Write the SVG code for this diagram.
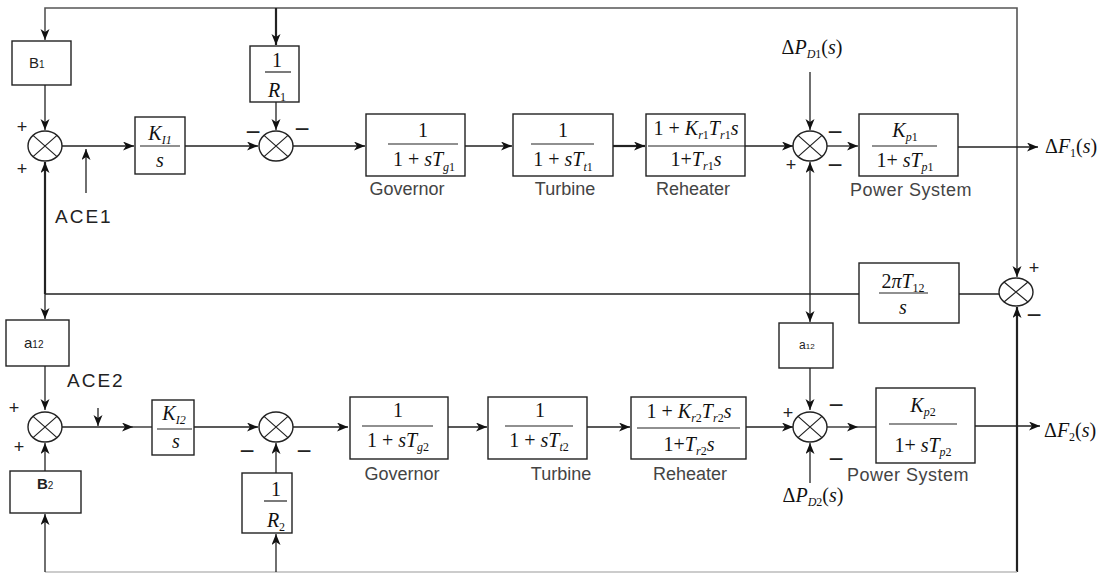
<svg xmlns="http://www.w3.org/2000/svg" width="1110" height="573" viewBox="0 0 1110 573">
<defs>
<marker id="ah" markerUnits="userSpaceOnUse" markerWidth="12" markerHeight="10" refX="11" refY="4.5" orient="auto">
<path d="M0,0 L11,4.5 L0,9 L3,4.5 z" fill="#111"/>
</marker>
<style>
.ln{fill:none;stroke:#222;stroke-width:1.3}
.thk{stroke-width:2.2}
.lt{stroke:#bbb}
.gr{stroke:#555;stroke-width:1.6}
.bx{fill:#fff;stroke:#222;stroke-width:1.4}
.sm{fill:#fff;stroke:#222;stroke-width:1.4}
.fl{stroke:#222;stroke-width:1.2}
.m{font-family:"Liberation Serif",serif;font-size:20px;fill:#111}
.i{font-style:italic}
.sb{font-size:12px}
.lb{font-family:"Liberation Sans",Arial,sans-serif;font-size:18px;fill:#444}
.sg{font-family:"Liberation Sans",Arial,sans-serif;font-size:18px;fill:#222;text-anchor:middle}
.mn{font-family:"Liberation Sans",Arial,sans-serif;font-size:26px;fill:#222;text-anchor:middle}
.tx{font-family:"Liberation Sans",Arial,sans-serif;fill:#222}
.ace{font-family:"Liberation Sans",Arial,sans-serif;font-size:19px;letter-spacing:2px;fill:#222}
</style>
</defs>
<rect width="1110" height="573" fill="#fff"/>

<g id="connectors">
<path class="ln gr" d="M1017,147 V8 H45 V40" marker-end="url(#ah)"/>
<path class="ln" d="M1017,147 V277" marker-end="url(#ah)"/>
<path class="ln thk" d="M276,8 V45" marker-end="url(#ah)"/>
<path class="ln" d="M45,85 V130" marker-end="url(#ah)"/>
<path class="ln" d="M62,146 H134" marker-end="url(#ah)"/>
<path class="ln" d="M86,193 V149" marker-end="url(#ah)"/>
<path class="ln" d="M185,146 H258" marker-end="url(#ah)"/>
<path class="ln" d="M276,102 V130" marker-end="url(#ah)"/>
<path class="ln" d="M293,146 H365" marker-end="url(#ah)"/>
<path class="ln" d="M465,146 H512" marker-end="url(#ah)"/>
<path class="ln thk" d="M613,146 H645" marker-end="url(#ah)"/>
<path class="ln" d="M745,146 H793" marker-end="url(#ah)"/>
<path class="ln" d="M810,72 V130" marker-end="url(#ah)"/>
<path class="ln" d="M827,146 H858" marker-end="url(#ah)"/>
<path class="ln" d="M958,147 H1038" marker-end="url(#ah)"/>
<path class="ln" d="M999,294 H959 M859,294 H45"/>
<path class="ln thk" d="M45,294 V162" marker-end="url(#ah)"/>
<path class="ln" d="M45,294 V319" marker-end="url(#ah)"/>
<path class="ln" d="M810,294 V162" marker-end="url(#ah)"/>
<path class="ln" d="M810,294 V322" marker-end="url(#ah)"/>
<path class="ln thk" d="M1017,572 V307" marker-end="url(#ah)"/>
<path class="ln" d="M975,426 H1040" marker-end="url(#ah)"/>
<path class="ln" d="M45,366 V410" marker-end="url(#ah)"/>
<path class="ln" d="M62,427 H133" marker-end="url(#ah)"/>
<path class="ln" d="M133,427 H152"/>
<path class="ln" d="M98,408 V426" marker-end="url(#ah)"/>
<path class="ln" d="M194,427 H258" marker-end="url(#ah)"/>
<path class="ln" d="M276,473 V443" marker-end="url(#ah)"/>
<path class="ln lt" d="M45,572 H1017"/>
<path class="ln" d="M276,572 V534" marker-end="url(#ah)"/>
<path class="ln" d="M45,572 V514" marker-end="url(#ah)"/>
<path class="ln" d="M45,471 V443" marker-end="url(#ah)"/>
<path class="ln" d="M293,427 H348" marker-end="url(#ah)"/>
<path class="ln" d="M448,427 H487" marker-end="url(#ah)"/>
<path class="ln" d="M587,427 H630" marker-end="url(#ah)"/>
<path class="ln" d="M746,427 H793" marker-end="url(#ah)"/>
<path class="ln" d="M810,368 V410" marker-end="url(#ah)"/>
<path class="ln" d="M810,483 V443" marker-end="url(#ah)"/>
<path class="ln" d="M827,427 H858" marker-end="url(#ah)"/>
<path class="ln" d="M858,427 H876"/>
</g>

<!-- summing junctions -->
<g id="sum1"><ellipse class="sm" cx="45" cy="146" rx="17" ry="15"/><path class="fl" d="M33,135.4 L57,156.6 M57,135.4 L33,156.6"/>
<text class="sg" x="22" y="133">+</text><text class="sg" x="22" y="175">+</text></g>
<g id="sum2"><ellipse class="sm" cx="276" cy="146" rx="17" ry="15"/><path class="fl" d="M264,135.4 L288,156.6 M288,135.4 L264,156.6"/>
<text class="mn" x="253" y="140.5">−</text><text class="mn" x="302" y="137.5">−</text></g>
<g id="sum3"><ellipse class="sm" cx="810" cy="146" rx="17" ry="15"/><path class="fl" d="M798,135.4 L822,156.6 M822,135.4 L798,156.6"/>
<text class="mn" x="835" y="140.5">−</text><text class="sg" x="791" y="171">+</text><text class="mn" x="835" y="173.5">−</text></g>
<g id="sum4"><ellipse class="sm" cx="1016" cy="292" rx="17" ry="14"/><path class="fl" d="M1004,282 L1028,302 M1028,282 L1004,302"/>
<text class="sg" x="1034" y="274">+</text><text class="mn" x="1034" y="323.5">−</text></g>
<g id="sum5"><ellipse class="sm" cx="45" cy="427" rx="17" ry="15"/><path class="fl" d="M33,416.4 L57,437.6 M57,416.4 L33,437.6"/>
<text class="sg" x="14" y="414">+</text><text class="sg" x="19" y="453">+</text></g>
<g id="sum6"><ellipse class="sm" cx="276" cy="427" rx="17" ry="15"/><path class="fl" d="M264,416.4 L288,437.6 M288,416.4 L264,437.6"/>
<text class="mn" x="247" y="459.5">−</text><text class="mn" x="304" y="459.5">−</text></g>
<g id="sum7"><ellipse class="sm" cx="810" cy="427" rx="17" ry="15"/><path class="fl" d="M798,416.4 L822,437.6 M822,416.4 L798,437.6"/>
<text class="sg" x="788" y="419">+</text><text class="mn" x="836" y="413.5">−</text><text class="mn" x="836" y="467.5">−</text></g>

<!-- area 1 blocks -->
<g id="B1"><rect class="bx" x="12" y="41" width="59" height="44"/>
<text class="tx" x="29" y="68" font-size="15">B<tspan font-size="10">1</tspan></text></g>

<g id="R1"><rect class="bx" x="250" y="46" width="49" height="56"/>
<text class="m" x="277" y="67" text-anchor="middle">1</text>
<line class="fl" x1="265" y1="72" x2="291" y2="72"/>
<text class="m" x="277" y="97" text-anchor="middle"><tspan class="i">R</tspan><tspan class="sb" dy="4">1</tspan></text></g>

<g id="KI1"><rect class="bx" x="135" y="117" width="50" height="57"/>
<text class="m" x="160" y="140" text-anchor="middle"><tspan class="i">K</tspan><tspan class="sb i" dy="4">I1</tspan></text>
<line class="fl" x1="140" y1="146" x2="180" y2="146"/>
<text class="m i" x="160" y="167" text-anchor="middle">s</text></g>

<g id="gov1"><rect class="bx" x="366" y="114" width="99" height="62"/>
<text class="m" x="423" y="137" text-anchor="middle">1</text>
<line class="fl" x1="388" y1="144" x2="458" y2="144"/>
<text class="m" x="424" y="166" text-anchor="middle">1 + <tspan class="i">sT</tspan><tspan class="sb" dy="5"><tspan class="i">g</tspan>1</tspan></text>
<text class="lb" x="407" y="195" text-anchor="middle">Governor</text></g>

<g id="turb1"><rect class="bx" x="513" y="114" width="100" height="62"/>
<text class="m" x="563" y="137" text-anchor="middle">1</text>
<line class="fl" x1="531" y1="144" x2="594" y2="144"/>
<text class="m" x="563" y="166" text-anchor="middle">1 + <tspan class="i">sT</tspan><tspan class="sb" dy="5"><tspan class="i">t</tspan>1</tspan></text>
<text class="lb" x="565" y="195" text-anchor="middle">Turbine</text></g>

<g id="reh1"><rect class="bx" x="646" y="114" width="99" height="62"/>
<text class="m" x="696" y="135" text-anchor="middle">1 + <tspan class="i">K</tspan><tspan class="sb" dy="4"><tspan class="i">r</tspan>1</tspan><tspan class="i" dy="-4">T</tspan><tspan class="sb" dy="4"><tspan class="i">r</tspan>1</tspan><tspan class="i" dy="-4">s</tspan></text>
<line class="fl" x1="648" y1="146" x2="745" y2="146"/>
<text class="m" x="696" y="166" text-anchor="middle">1+<tspan class="i">T</tspan><tspan class="sb" dy="4"><tspan class="i">r</tspan>1</tspan><tspan class="i" dy="-4">s</tspan></text>
<text class="lb" x="693" y="195" text-anchor="middle">Reheater</text></g>

<g id="ps1"><rect class="bx" x="859" y="114" width="99" height="62"/>
<text class="m" x="905" y="137" text-anchor="middle"><tspan class="i">K</tspan><tspan class="sb" dy="4"><tspan class="i">p</tspan>1</tspan></text>
<line class="fl" x1="872" y1="146" x2="937" y2="146"/>
<text class="m" x="905" y="167" text-anchor="middle">1+ <tspan class="i">sT</tspan><tspan class="sb" dy="4"><tspan class="i">p</tspan>1</tspan></text>
<text class="lb" x="911" y="196" text-anchor="middle" letter-spacing="0.5">Power System</text></g>

<g id="dPD1"><text class="m" x="812" y="54" text-anchor="middle">Δ<tspan class="i">P</tspan><tspan class="sb" dy="4"><tspan class="i">D</tspan>1</tspan><tspan dy="-4">(</tspan><tspan class="i">s</tspan>)</text></g>
<g id="dF1"><text class="m" x="1045" y="153">Δ<tspan class="i">F</tspan><tspan class="sb" dy="4">1</tspan><tspan dy="-4">(</tspan><tspan class="i">s</tspan>)</text></g>
<g id="ACE1"><text class="ace" x="55" y="223">ACE1</text></g>

<!-- tie line -->
<g id="tie"><rect class="bx" x="859" y="263" width="100" height="60"/>
<text class="m" x="903" y="288" text-anchor="middle">2<tspan class="i">πT</tspan><tspan class="sb" dy="4">12</tspan></text>
<line class="fl" x1="879" y1="293" x2="928" y2="293"/>
<text class="m i" x="903" y="314" text-anchor="middle">s</text></g>

<!-- area 2 blocks -->
<g id="a12L"><rect class="bx" x="6" y="320" width="63" height="46"/>
<text class="tx" x="24" y="348" font-size="15">a<tspan font-size="10">12</tspan></text></g>

<g id="ACE2"><text class="ace" x="67" y="387">ACE2</text></g>

<g id="KI2"><rect class="bx" x="152" y="400" width="42" height="55"/>
<text class="m" x="174" y="420" text-anchor="middle"><tspan class="i">K</tspan><tspan class="sb i" dy="4">I2</tspan></text>
<line class="fl" x1="157" y1="429" x2="192" y2="429"/>
<text class="m i" x="176" y="448" text-anchor="middle">s</text></g>

<g id="B2"><rect class="bx" x="10" y="471" width="71" height="42"/>
<text class="tx" x="37" y="489" font-size="15" font-weight="bold">B<tspan font-size="10" font-weight="normal">2</tspan></text></g>

<g id="R2"><rect class="bx" x="242" y="473" width="50" height="60"/>
<text class="m" x="276" y="496" text-anchor="middle">1</text>
<line class="fl" x1="264" y1="501" x2="287" y2="501"/>
<text class="m" x="276" y="527" text-anchor="middle"><tspan class="i">R</tspan><tspan class="sb" dy="4">2</tspan></text></g>

<g id="gov2"><rect class="bx" x="350" y="397" width="98" height="62"/>
<text class="m" x="398" y="417" text-anchor="middle">1</text>
<line class="fl" x1="362" y1="426" x2="433" y2="426"/>
<text class="m" x="398" y="447" text-anchor="middle">1 + <tspan class="i">sT</tspan><tspan class="sb" dy="4"><tspan class="i">g</tspan>2</tspan></text>
<text class="lb" x="402" y="480" text-anchor="middle">Governor</text></g>

<g id="turb2"><rect class="bx" x="488" y="397" width="99" height="62"/>
<text class="m" x="540" y="417" text-anchor="middle">1</text>
<line class="fl" x1="505" y1="426" x2="573" y2="426"/>
<text class="m" x="539" y="447" text-anchor="middle">1 + <tspan class="i">sT</tspan><tspan class="sb" dy="4"><tspan class="i">t</tspan>2</tspan></text>
<text class="lb" x="561" y="480" text-anchor="middle">Turbine</text></g>

<g id="reh2"><rect class="bx" x="631" y="397" width="115" height="62"/>
<text class="m" x="689" y="418" text-anchor="middle">1 + <tspan class="i">K</tspan><tspan class="sb" dy="4"><tspan class="i">r</tspan>2</tspan><tspan class="i" dy="-4">T</tspan><tspan class="sb" dy="4"><tspan class="i">r</tspan>2</tspan><tspan class="i" dy="-4">s</tspan></text>
<line class="fl" x1="637" y1="428" x2="740" y2="428"/>
<text class="m" x="689" y="451" text-anchor="middle">1+<tspan class="i">T</tspan><tspan class="sb" dy="4"><tspan class="i">r</tspan>2</tspan><tspan class="i" dy="-4">s</tspan></text>
<text class="lb" x="690" y="480" text-anchor="middle">Reheater</text></g>

<g id="a12R"><rect class="bx" x="779" y="323" width="54" height="45"/>
<text class="tx" x="799" y="349" font-size="12">a<tspan font-size="8">12</tspan></text></g>

<g id="ps2"><rect class="bx" x="876" y="388" width="99" height="75"/>
<text class="m" x="923" y="412" text-anchor="middle"><tspan class="i">K</tspan><tspan class="sb" dy="4"><tspan class="i">p</tspan>2</tspan></text>
<line class="fl" x1="889" y1="424" x2="957" y2="424"/>
<text class="m" x="923" y="452" text-anchor="middle">1+ <tspan class="i">sT</tspan><tspan class="sb" dy="4"><tspan class="i">p</tspan>2</tspan></text>
<text class="lb" x="908" y="481" text-anchor="middle" letter-spacing="0.5">Power System</text></g>

<g id="dPD2"><text class="m" x="813" y="502" text-anchor="middle">Δ<tspan class="i">P</tspan><tspan class="sb" dy="4"><tspan class="i">D</tspan>2</tspan><tspan dy="-4">(</tspan><tspan class="i">s</tspan>)</text></g>
<g id="dF2"><text class="m" x="1044" y="437">Δ<tspan class="i">F</tspan><tspan class="sb" dy="4">2</tspan><tspan dy="-4">(</tspan><tspan class="i">s</tspan>)</text></g>
</svg>
